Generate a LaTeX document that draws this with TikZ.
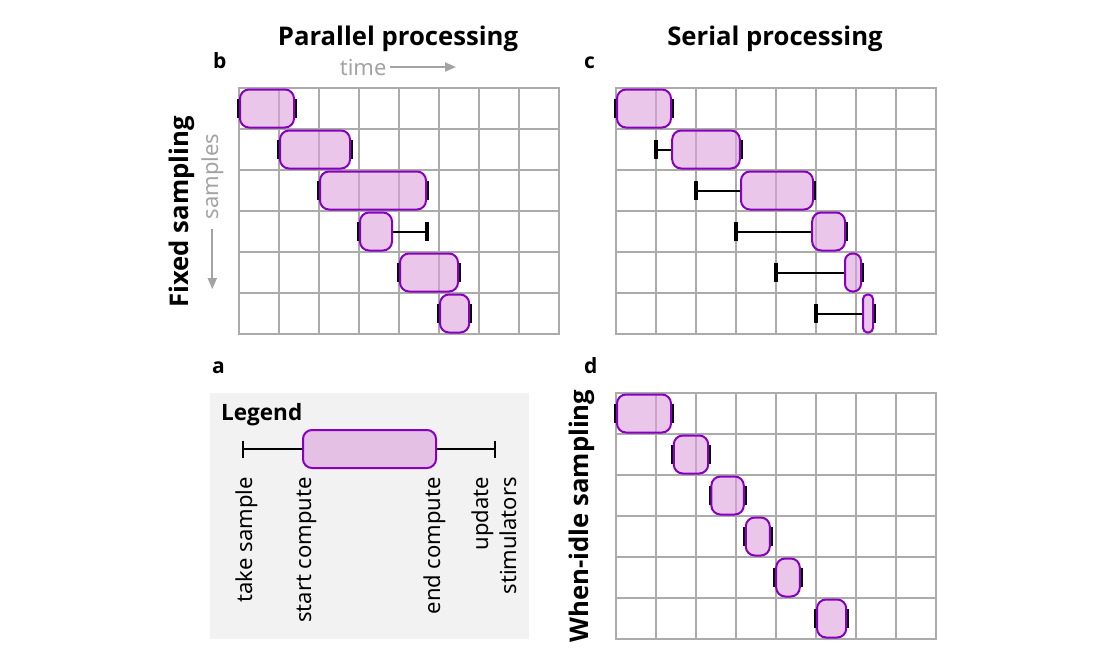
\documentclass[tikz,border=0pt]{standalone}
\usepackage{fontspec}
\setmainfont{Noto Sans}
\newfontfamily\headfont{Open Sans}
\usetikzlibrary{arrows.meta,backgrounds}

\definecolor{jobfill}{HTML}{DDA0DD}
\definecolor{jobedge}{RGB}{136,0,190}
\definecolor{gridgray}{HTML}{ABABAB}
\definecolor{axisgray}{HTML}{A3A3A3}
\definecolor{legendbg}{HTML}{F2F2F2}

% one row of a timing chart: name, x0, y0, row, sample, start, end, update
\newcommand\jobrow[8]{%
  \pgfmathsetmacro\jobyc{#3+41*(#4-0.5)}%
  \pgfmathsetmacro\jobxa{#2+40*#6}%
  \pgfmathsetmacro\jobxe{#2+40*#7}%
  \pgfmathsetmacro\jobw{\jobxe-\jobxa-2}%
  \pgfmathsetmacro\jobr{min(9,\jobw/2-0.5)}%
  \coordinate (#1s#4) at (#2+40*#5,\jobyc);
  \coordinate (#1u#4) at (#2+40*#8,\jobyc);
  \node[job,minimum width=\jobw pt,rounded corners=\jobr pt] (#1j#4) at ({(\jobxa+\jobxe)/2},\jobyc) {};
  \begin{scope}[on background layer]
    \draw[link] (#1s#4) -- (#1j#4.west);
    \draw[link] (#1j#4.east) -- (#1u#4);
    \draw[tick] (#1s#4) ++(0,-9.5) -- ++(0,19);
    \draw[tick] (#1u#4) ++(0,-9.5) -- ++(0,19);
  \end{scope}}

\begin{document}
\begin{tikzpicture}[x=1pt,y=-1pt,
  gridline/.style={draw=gridgray,line width=2pt,line cap=rect},
  job/.style={draw=jobedge,line width=2pt,fill=jobfill,fill opacity=0.6,inner sep=0pt,outer sep=0pt,minimum height=38pt},
  link/.style={line width=2pt},
  tick/.style={line width=3.5pt},
  title/.style={font=\headfont\fontsize{25.7}{30}\selectfont\bfseries},
  panel/.style={font=\headfont\fontsize{21}{26}\selectfont\bfseries,inner sep=0pt},
  axis/.style={font=\fontsize{22}{26}\selectfont,text=axisgray},
  axisarr/.style={draw=axisgray,line width=2pt,-{Triangle[length=11pt,width=9pt]}},
  lbl/.style={font=\fontsize{22}{28}\selectfont,rotate=90,anchor=east,align=right,inner sep=0pt}]
\useasboundingbox (0,0) rectangle (1104,672);

% grids and legend background
\begin{scope}[on background layer]
\fill[legendbg] (210,393) rectangle (529,639);
\foreach \px/\py in {239/88,616/88,616/393}{
  \foreach \i in {0,...,8} \draw[gridline] (\px+40*\i,\py) -- (\px+40*\i,\py+246);
  \foreach \j in {0,...,6} \draw[gridline] (\px,\py+41*\j) -- (\px+320,\py+41*\j);
}
\end{scope}

% headings
\node[title,anchor=base] (partitle) at (398,45) {Parallel processing};
\node[title,anchor=base] (sertitle) at (775,45) {Serial processing};
\node[title,rotate=90,anchor=base] (fixlab) at (188,212) {Fixed sampling};
\node[title,rotate=90,anchor=base] (idlelab) at (588,516) {When-idle sampling};
\node[panel,anchor=base west] (pb) at (213,68) {b};
\node[panel,anchor=base west] (pc) at (584,68) {c};
\node[panel,anchor=base west] (pa) at (212,373) {a};
\node[panel,anchor=base west] (pd) at (584,373) {d};

% axes
\node[axis,anchor=base east] (time) at (390,75) {time};
\coordinate (timetip) at (456,67);
\draw[axisarr] (time.east) -- (time.east -| timetip);
\node[axis,rotate=90,anchor=base] (samp) at (218,176.5) {samples};
\coordinate (samptip) at (214,289);
\draw[axisarr] ([yshift=-6pt]samp.west) -- (samp.west |- samptip);

% b: parallel, fixed sampling
\foreach \rw/\ts/\ta/\te/\tu in {1/0/0/1.4/1.4, 2/1/1/2.8/2.8, 3/2/2/4.7/4.7,
    4/3/3/3.85/4.7, 5/4/4/5.5/5.5, 6/5/5/5.78/5.78}
  \jobrow{b}{239}{88}{\rw}{\ts}{\ta}{\te}{\tu};

% c: serial, fixed sampling
\foreach \rw/\ts/\ta/\te/\tu in {1/0/0/1.4/1.4, 2/1/1.38/3.12/3.12, 3/2/3.1/4.95/4.95,
    4/3/4.88/5.75/5.75, 5/4/5.7/6.15/6.15, 6/5/6.15/6.45/6.45}
  \jobrow{c}{616}{88}{\rw}{\ts}{\ta}{\te}{\tu};

% d: serial, when-idle sampling
\foreach \rw/\ts/\ta/\te/\tu in {1/0/0/1.4/1.4, 2/1.42/1.42/2.33/2.33, 3/2.36/2.36/3.22/3.22,
    4/3.22/3.22/3.87/3.87, 5/3.98/3.98/4.62/4.62, 6/5/5/5.78/5.78}
  \jobrow{d}{616}{393}{\rw}{\ts}{\ta}{\te}{\tu};

% a: legend
\node[panel,font=\headfont\fontsize{22.5}{26}\selectfont\bfseries,anchor=base west] (leghead) at (221,420) {Legend};
\coordinate (lsamp) at (243,449);
\coordinate (lupd) at (495,449);
\node[job,minimum width=133pt,rounded corners=9pt] (ljob) at (369.5,449) {};
\begin{scope}[on background layer]
\draw[link] (lsamp) -- (ljob.west);
\draw[link] (ljob.east) -- (lupd);
\draw[link] (lsamp) ++(0,-8.5) -- ++(0,17);
\draw[link] (lupd) ++(0,-8.5) -- ++(0,17);
\end{scope}
\node[lbl] (ltake) at (247,477) {take sample};
\node[lbl] (lstart) at (307,477) {start compute};
\node[lbl] (lend) at (435,477) {end compute};
\node[lbl] (lupdate) at (494,477) {update\\stimulators};
\end{tikzpicture}
\end{document}
